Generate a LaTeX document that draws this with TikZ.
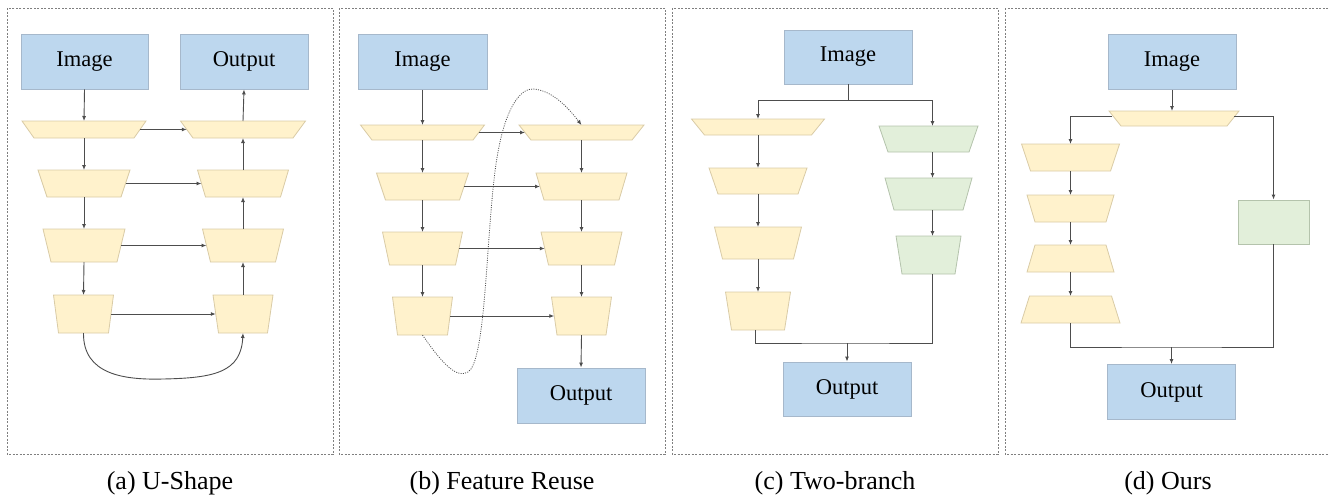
\documentclass[tikz,border=0pt]{standalone}
\usepackage{fontspec}
\setmainfont{Liberation Serif}
\usetikzlibrary{arrows.meta}
\definecolor{bluef}{HTML}{BDD7EE}
\definecolor{bluebd}{HTML}{A6B8CB}
\definecolor{yelf}{HTML}{FFF2CC}
\definecolor{yelbd}{HTML}{D9CBA6}
\definecolor{grnf}{HTML}{E2EFDA}
\definecolor{grnbd}{HTML}{B4C3AC}
\definecolor{arrc}{HTML}{4D4D4D}
\definecolor{panc}{HTML}{7F7F7F}
\newcommand{\trap}[7]{% name, style, cx, ytop, ybot, halftop, halfbot
  \draw[#2] ({#3-#6},#4) -- ({#3+#6},#4) -- ({#3+#7},#5) -- ({#3-#7},#5) -- cycle;
  \coordinate (#1-n) at (#3,#4);
  \coordinate (#1-s) at (#3,#5);
  \coordinate (#1-l) at ({#3-(#6+#7)/2},{(#4+#5)/2});
  \coordinate (#1-r) at ({#3+(#6+#7)/2},{(#4+#5)/2});}
\tikzset{
  boxb/.style={draw=bluebd, fill=bluef, line width=0.9pt, minimum width=127pt, minimum height=55pt, inner sep=0pt, font=\fontsize{22.5}{27}\selectfont},
  arr/.style={draw=arrc, line width=0.9pt, -{Latex[length=5pt,width=4pt]}},
  ln/.style={draw=arrc, line width=0.9pt},
  dotc/.style={draw=arrc, line width=0.8pt, dash pattern=on 1pt off 1.3pt, -{Latex[length=5pt,width=4pt]}},
  panel/.style={draw=panc, line width=0.8pt, dash pattern=on 2pt off 1.5pt},
  captxt/.style={font=\fontsize{26}{31}\selectfont, anchor=base, inner sep=0pt},
  ytr/.style={fill=yelf, draw=yelbd, line width=0.8pt},
  gtr/.style={fill=grnf, draw=grnbd, line width=0.8pt},
  grect/.style={fill=grnf, draw=grnbd, line width=0.9pt, minimum width=71pt, minimum height=44pt, inner sep=0pt},
}
\begin{document}
\begin{tikzpicture}[x=1pt,y=-1pt]
\useasboundingbox (0,0) rectangle (1329,496);
% panels
\draw[panel] (7,8) rectangle (333,454);
\draw[panel] (339,8) rectangle (665,454);
\draw[panel] (672,8) rectangle (998,454);
\draw[panel] (1005,8) rectangle (1340,454);

% ---------- (a) U-Shape ----------
\node[boxb] (ia) at (84.5,61.5) {Image};
\node[boxb, minimum width=128pt] (oa) at (244,61.5) {Output};
\trap{a1}{ytr}{84}{121}{138}{62}{50}
\trap{a2}{ytr}{84}{170}{197}{46}{37}
\trap{a3}{ytr}{84}{229}{262}{41}{33}
\trap{a4}{ytr}{83.5}{295}{333}{30}{25}
\trap{r1}{ytr}{243}{121}{138}{62.5}{50}
\trap{r2}{ytr}{243}{170}{197}{45.5}{37.5}
\trap{r3}{ytr}{243}{229}{262}{40.5}{32.5}
\trap{r4}{ytr}{243}{295}{333}{30}{24.5}
\draw[arr] (ia.south) -- (a1-n);
\draw[arr] (a1-s) -- (a2-n);
\draw[arr] (a2-s) -- (a3-n);
\draw[arr] (a3-s) -- (a4-n);
\draw[arr] (a1-r) -- (r1-l);
\draw[arr] (a2-r) -- (r2-l);
\draw[arr] (a3-r) -- (r3-l);
\draw[arr] (a4-r) -- (r4-l);
\draw[arr] (r4-n) -- (r3-s);
\draw[arr] (r3-n) -- (r2-s);
\draw[arr] (r2-n) -- (r1-s);
\draw[arr] (r1-n) -- (oa.south);
\draw[arr] (a4-s) .. controls (83,375) and (125,380) .. (163,379) .. controls (215,378) and (241,372) .. (r4-s);

% ---------- (b) Feature Reuse ----------
\node[boxb, minimum width=129pt] (ib) at (422.5,62) {Image};
\node[boxb, minimum width=128pt] (ob) at (581,395.5) {Output};
\trap{b1}{ytr}{422.5}{125}{140}{62}{50.5}
\trap{b2}{ytr}{422.5}{173}{200}{46}{37}
\trap{b3}{ytr}{422.5}{232}{265}{40}{33}
\trap{b4}{ytr}{422.5}{297}{335}{30}{25}
\trap{s1}{ytr}{581.5}{125}{140}{62.5}{50.5}
\trap{s2}{ytr}{581.5}{173}{200}{45.5}{37.5}
\trap{s3}{ytr}{581.5}{232}{265}{40.5}{33}
\trap{s4}{ytr}{581.5}{297}{335}{30}{24.5}
\draw[arr] (ib.south) -- (b1-n);
\draw[arr] (b1-s) -- (b2-n);
\draw[arr] (b2-s) -- (b3-n);
\draw[arr] (b3-s) -- (b4-n);
\draw[arr] (s1-s) -- (s2-n);
\draw[arr] (s2-s) -- (s3-n);
\draw[arr] (s3-s) -- (s4-n);
\draw[arr] (s4-s) -- (ob.north);
\draw[arr] (b1-r) -- (s1-l);
\draw[arr] (b2-r) -- (s2-l);
\draw[arr] (b3-r) -- (s3-l);
\draw[arr] (b4-r) -- (s4-l);
\draw[dotc] (b4-s) .. controls (445,368) and (458,378) .. (468,372) .. controls (485,362) and (486,250) .. (494,180) .. controls (502,105) and (522,88) .. (533,89) .. controls (553,90) and (570,110) .. (s1-n);

% ---------- (c) Two-branch ----------
\node[boxb, minimum width=128pt, minimum height=54pt] (ic) at (848,57) {Image};
\node[boxb, minimum width=128pt, minimum height=54pt] (oc) at (847,389) {Output};
\trap{c1}{ytr}{758}{119}{135}{66.5}{53.5}
\trap{c2}{ytr}{758}{168}{194}{49}{40}
\trap{c3}{ytr}{758}{227}{259}{43.5}{35.5}
\trap{c4}{ytr}{758}{292}{330}{32.5}{26.5}
\trap{g1}{gtr}{928.5}{126}{152}{49.5}{40.5}
\trap{g2}{gtr}{928.5}{178}{210}{43.5}{34.5}
\trap{g3}{gtr}{928.5}{236}{274}{32.5}{26.5}
\coordinate (c-split) at (ic.south |- 0,100);
\coordinate (c-join) at (oc.north |- 0,343);
\draw[ln] (ic.south) -- (c-split);
\draw[arr] (c-split) -| (c1-n);
\draw[arr] (c-split) -| ([xshift=4pt]g1-n);
\draw[arr] (c1-s) -- (c2-n);
\draw[arr] (c2-s) -- (c3-n);
\draw[arr] (c3-s) -- (c4-n);
\draw[arr] ([xshift=4pt]g1-s) -- ([xshift=4pt]g2-n);
\draw[arr] ([xshift=4pt]g2-s) -- ([xshift=4pt]g3-n);
\draw[ln] ([xshift=-3pt]c4-s) |- (c-join) -| ([xshift=4pt]g3-s);
\draw[arr] (c-join) -- (oc.north);

% ---------- (d) Ours ----------
\node[boxb, minimum width=128pt] (id) at (1172,62) {Image};
\node[boxb, minimum width=128pt] (od) at (1171.5,392) {Output};
\trap{d0}{ytr}{1174}{111}{126}{65}{53}
\trap{l1}{ytr}{1070.5}{144}{171}{49}{40}
\trap{l2}{ytr}{1070.5}{195}{222}{43.5}{35.5}
\trap{l3}{ytr}{1070.5}{245}{272}{35.5}{43.5}
\trap{l4}{ytr}{1070.5}{296}{323}{41}{49.5}
\node[grect] (gd) at (1273.5,222) {};
\coordinate (d0-lo) at (1112,116.5);
\coordinate (d0-ro) at (1234,116.5);
\coordinate (d-join) at (od.north |- 0,347);
\draw[arr] (id.south) -- (id.south |- d0-n);
\draw[arr] (d0-lo) -| (l1-n);
\draw[arr] (d0-ro) -| (gd.north);
\draw[arr] (l1-s) -- (l2-n);
\draw[arr] (l2-s) -- (l3-n);
\draw[arr] (l3-s) -- (l4-n);
\draw[ln] (l4-s) |- (d-join) -| (gd.south);
\draw[arr] (d-join) -- (od.north);

% captions
\node[captxt] (capa) at (170,489) {(a) U-Shape};
\node[captxt] (capb) at (502,489) {(b) Feature Reuse};
\node[captxt] (capc) at (835,489) {(c) Two-branch};
\node[captxt] (capd) at (1168,489) {(d) Ours};
\end{tikzpicture}
\end{document}
